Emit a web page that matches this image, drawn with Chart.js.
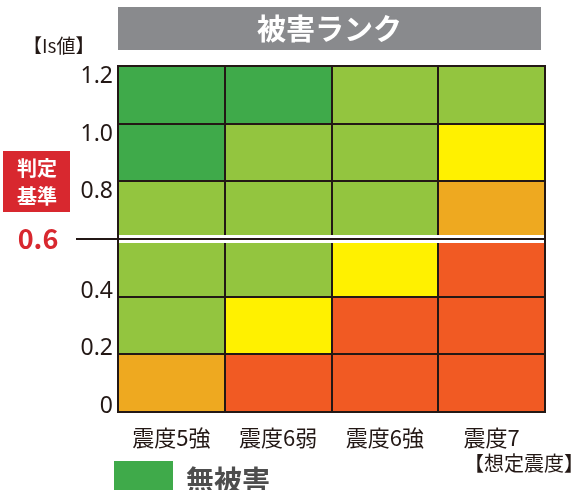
<!DOCTYPE html>
<html>
<head>
<meta charset="utf-8">
<script src="https://cdn.jsdelivr.net/npm/chart.js@4"></script>
<style>
  html, body { margin: 0; padding: 0; background: #fff; }
  #wrap { width: 582px; height: 490px; }
</style>
</head>
<body>
<div id="wrap"><canvas id="chartForRank" width="582" height="490"></canvas></div>
<script>
// 想定震度（横軸）
var shindoLabels = ['震度5強', '震度6弱', '震度6強', '震度7'];
// Is値の帯（縦軸）
var isBands = [[0, 0.2], [0.2, 0.4], [0.4, 0.6], [0.6, 0.8], [0.8, 1.0], [1.0, 1.2]];
var isTickLabels = ['0', '0.2', '0.4', '', '0.8', '1.0', '1.2'];
var judgeValue = 0.6;
// 被害ランク（0=無被害 … 4=最大）下の帯から順に
var rankGrid = [
  [3, 4, 4, 4],
  [1, 2, 4, 4],
  [1, 1, 2, 4],
  [1, 1, 1, 3],
  [0, 1, 1, 2],
  [0, 0, 1, 1]
];
var legendLabels = ['無被害'];

var rankColors = ['#3faa4a', '#93c53f', '#fff100', '#eea920', '#f15a23'];
var lineColor = '#231815';
var fontFamily = '"Noto Sans CJK JP", "Noto Sans", sans-serif';
var numFamily = '"Noto Sans", "Open Sans", sans-serif';

var datasets = [];
for (var i = 0; i < isBands.length; i++) {
  var data = [];
  var colors = [];
  for (var j = 0; j < shindoLabels.length; j++) {
    data.push(isBands[i]);
    colors.push(rankColors[rankGrid[i][j]]);
  }
  datasets.push({
    label: isBands[i].join('-'),
    data: data,
    backgroundColor: colors,
    borderWidth: 0,
    barPercentage: 1,
    categoryPercentage: 1,
    grouped: false
  });
}

// マス目の罫線（バーの上に描く）
var cellLinePlugin = {
  id: 'cellLines',
  afterDatasetsDraw: function (chart) {
    var ctx = chart.ctx;
    var area = chart.chartArea;
    var x = chart.scales.x;
    var y = chart.scales.y;
    ctx.save();
    ctx.strokeStyle = lineColor;
    ctx.lineWidth = 2;
    ctx.beginPath();
    for (var i = 0; i < isBands.length; i++) {
      var py = Math.round(y.getPixelForValue(isBands[i][0]));
      ctx.moveTo(area.left - 1, py);
      ctx.lineTo(area.right + 1, py);
    }
    var top = Math.round(y.getPixelForValue(isBands[isBands.length - 1][1]));
    ctx.moveTo(area.left - 1, top);
    ctx.lineTo(area.right + 1, top);
    for (var j = 0; j <= shindoLabels.length; j++) {
      var px = Math.round(x.getPixelForValue(j - 0.5));
      ctx.moveTo(px, area.top - 1);
      ctx.lineTo(px, area.bottom + 1);
    }
    ctx.stroke();
    ctx.restore();
  }
};

// 見出し・判定基準などの描画
var decoPlugin = {
  id: 'deco',
  afterDraw: function (chart) {
    var ctx = chart.ctx;
    var area = chart.chartArea;
    var y = chart.scales.y;
    ctx.save();

    // 判定基準線
    var py = Math.round(y.getPixelForValue(judgeValue));
    ctx.fillStyle = '#fff';
    ctx.fillRect(area.left + 1, py - 4, area.right - area.left - 2, 8);
    ctx.fillStyle = lineColor;
    ctx.fillRect(76, py - 1, area.right - 76 + 1, 2);

    // Is値の目盛（基準より上は線の下、下は線の上に置く）
    ctx.fillStyle = lineColor;
    ctx.font = '23px ' + numFamily;
    ctx.textAlign = 'right';
    ctx.textBaseline = 'alphabetic';
    for (var i = 0; i < y.ticks.length; i++) {
      var ty = y.getPixelForTick(i);
      var base = y.ticks[i].value > judgeValue ? ty + 17 : ty + 1;
      ctx.fillText(isTickLabels[i], area.left - 5, base);
    }

    // タイトル
    ctx.fillStyle = '#898a8d';
    ctx.fillRect(area.left, 7, area.right - area.left - 4, 43);
    ctx.fillStyle = '#fff';
    ctx.font = 'bold 29px ' + fontFamily;
    ctx.textAlign = 'center';
    ctx.textBaseline = 'middle';
    ctx.fillText('被害ランク', (area.left + area.right) / 2 - 2, 29);

    // 軸見出し
    ctx.fillStyle = lineColor;
    ctx.font = '19px ' + fontFamily;
    ctx.textAlign = 'left';
    ctx.fillText('【Is値】', 23, 46);
    ctx.font = '20px ' + fontFamily;
    ctx.textAlign = 'right';
    ctx.fillText('【想定震度】', 584, 463);

    // 判定基準
    ctx.fillStyle = '#d8282f';
    ctx.fillRect(3, 151, 67, 61);
    ctx.fillStyle = '#fff';
    ctx.font = 'bold 20px ' + fontFamily;
    ctx.textAlign = 'center';
    ctx.fillText('判定', 37, 168);
    ctx.fillText('基準', 37, 196);
    ctx.fillStyle = '#d8282f';
    ctx.font = 'bold 27px ' + fontFamily;
    ctx.fillText('0.6', 38, py);

    // 凡例
    ctx.fillStyle = rankColors[0];
    ctx.fillRect(114, 461, 59, 35);
    ctx.fillStyle = '#4d4d4d';
    ctx.font = 'bold 28px ' + fontFamily;
    ctx.textAlign = 'left';
    ctx.fillText(legendLabels[0], 186, 480);

    ctx.restore();
  }
};

var chart = new Chart(document.getElementById('chartForRank'), {
  type: 'bar',
  data: {
    labels: shindoLabels,
    datasets: datasets
  },
  options: {
    responsive: false,
    animation: false,
    layout: { padding: { top: 66, right: 37, bottom: 38, left: 0 } },
    plugins: {
      legend: { display: false },
      tooltip: { enabled: false }
    },
    scales: {
      x: {
        offset: true,
        grid: { display: false },
        border: { display: false },
        ticks: {
          color: lineColor,
          font: { family: fontFamily, size: 22 },
          padding: 4
        },
        afterFit: function (scale) { scale.height = 40; }
      },
      y: {
        min: 0,
        max: 1.2,
        grid: { display: false },
        border: { display: false },
        ticks: { display: false, stepSize: 0.2 },
        afterFit: function (scale) { scale.width = 118; }
      }
    }
  },
  plugins: [cellLinePlugin, decoPlugin]
});
</script>
</body>
</html>
